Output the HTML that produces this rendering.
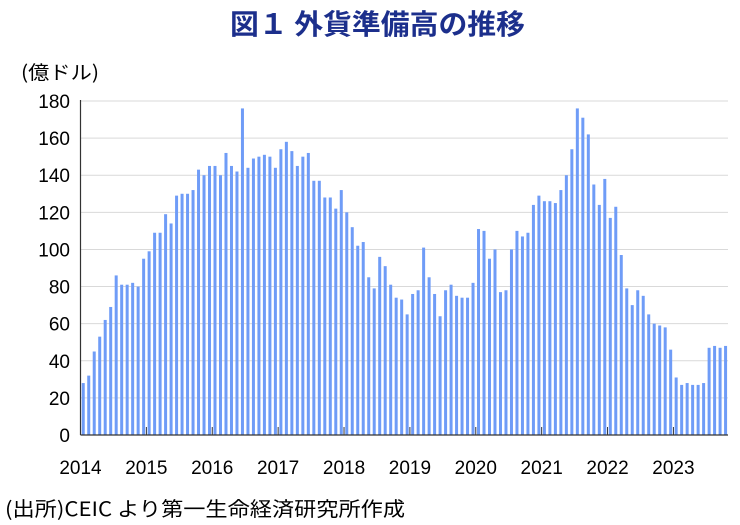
<!DOCTYPE html>
<html><head><meta charset="utf-8"><style>
body{margin:0;background:#fff;}
svg{display:block;font-family:"Liberation Sans","Noto Sans CJK JP",sans-serif;}
</style></head><body>
<svg id="chart" width="740" height="525" viewBox="0 0 740 525">
<text x="230" y="34" textLength="295" lengthAdjust="spacingAndGlyphs" font-size="28" font-weight="bold" fill="#1c2f8c" font-family="'Noto Sans CJK JP',sans-serif">図１ 外貨準備高の推移</text>
<text x="21" y="79" textLength="78" lengthAdjust="spacingAndGlyphs" font-size="19" fill="#000" font-family="'Noto Sans CJK JP',sans-serif">(億ドル)</text>
<g id="grid"></g><g id="bars"></g><g id="axes"></g>
<text x="5" y="516" textLength="400" lengthAdjust="spacingAndGlyphs" font-size="20" fill="#000" font-family="'Noto Sans CJK JP',sans-serif">(出所)CEIC より第一生命経済研究所作成</text>
</svg>
<script>
const years=["2014","2015","2016","2017","2018","2019","2020","2021","2022","2023"];
const yTicks=[0,20,40,60,80,100,120,140,160,180];
const v2014=[28,32,45,53,62,69,86,81,81,82,80,95];
const v2015=[99,109,109,119,114,129,130,130,132,143,140,145];
const v2016=[145,140,152,145,142,176,144,149,150,151,150,144];
const v2017=[154,158,153,145,150,152,137,137,128,128,122,132];
const v2018=[120,112,102,104,85,79,96,91,81,74,73,65];
const v2019=[76,78,101,85,76,64,78,81,75,74,74,82];
const v2020=[111,110,95,100,77,78,100,110,107,109,124,129];
const v2021=[126,126,125,132,140,154,176,171,162,135,124,138];
const v2022=[117,123,97,79,70,78,75,65,60,59,58,46];
const v2023=[31,27,28,27,27,28,47,48,47,48];
const values=[].concat(v2014,v2015,v2016,v2017,v2018,v2019,v2020,v2021,v2022,v2023);
const NS="http://www.w3.org/2000/svg";
const x0=80.5,x1=728,y0=435,y1=101,mw=5.49;
const xm=i=>x0+mw*(i+0.5);
const yv=v=>y0-(v/180)*(y0-y1);
const grid=document.getElementById('grid'),bars=document.getElementById('bars'),axes=document.getElementById('axes');
function mk(t,a,p){const e=document.createElementNS(NS,t);for(const k in a)e.setAttribute(k,a[k]);p.appendChild(e);return e;}
yTicks.forEach(t=>{
 if(t>0){const l=mk('line',{x1:x0,x2:x1,y1:yv(t),y2:yv(t),stroke:'#d9d9d9','stroke-width':1},grid);
 
 }
 const tx=mk('text',{x:70,y:yv(t)+7,'text-anchor':'end','font-size':19,fill:'#000'},axes);
 tx.textContent=t;
 
 
});
values.forEach((v,i)=>{
 const r=mk('rect',{x:xm(i)-1.5,y:yv(v),width:3,height:y0-yv(v),fill:'#6f9cf7'},bars);
 
 
});
const ax=mk('line',{x1:x0,x2:x1,y1:y0,y2:y0,stroke:'#333','stroke-width':1.2},axes);


const ay=mk('line',{x1:x0,x2:x0,y1:y1-1,y2:y0,stroke:'#333','stroke-width':1.2},axes);


years.forEach((y,k)=>{
 const x=x0+mw*12*k;
 if(k>0){const tk=mk('line',{x1:x,x2:x,y1:y0-8,y2:y0,stroke:'#333','stroke-width':1},axes);
 
 }
 const tx=mk('text',{x:x,y:474,'text-anchor':'middle','font-size':19,fill:'#000'},axes);
 tx.textContent=y;
 
 
});
</script>
</body></html>
